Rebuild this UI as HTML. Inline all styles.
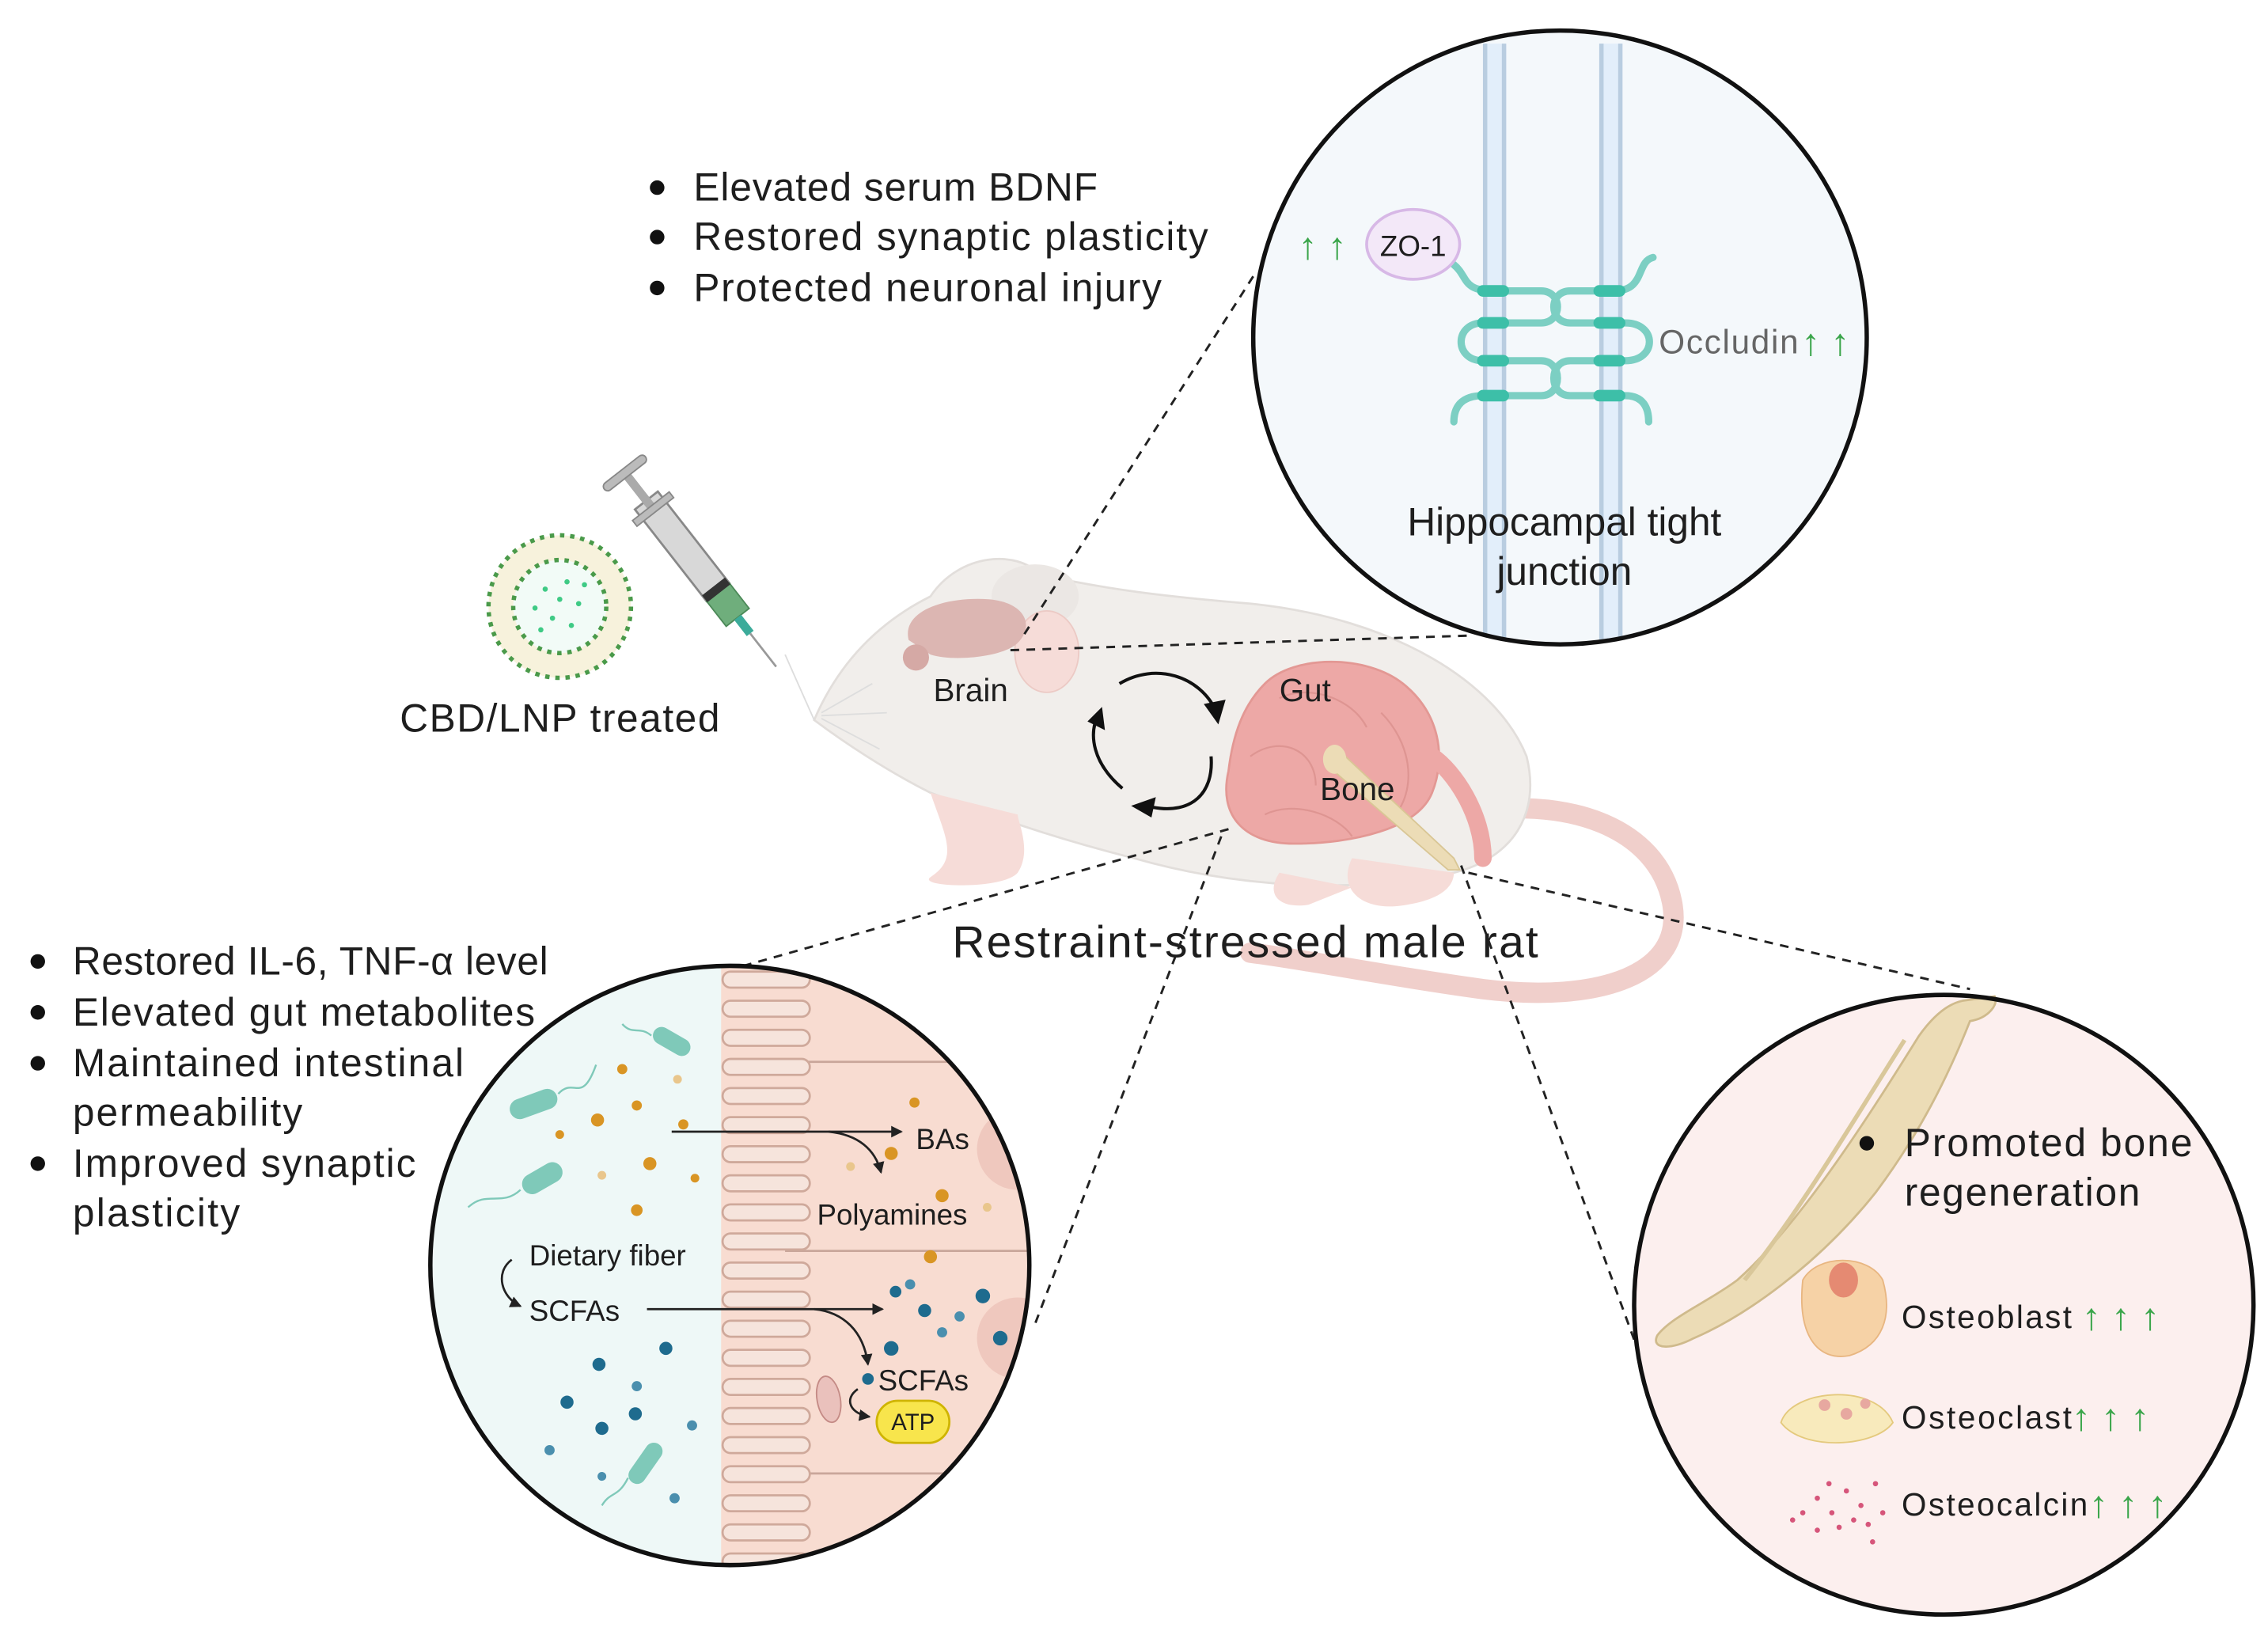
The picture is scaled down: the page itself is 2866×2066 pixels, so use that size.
<!DOCTYPE html>
<html><head><meta charset="utf-8"><style>
html,body{margin:0;padding:0;background:#fff;}
svg{display:block;}
text{font-family:"Liberation Sans",sans-serif;fill:#1e1e1e;}
</style></head><body>
<svg width="2866" height="2066" viewBox="0 0 2866 2066" xmlns="http://www.w3.org/2000/svg">
<defs>
<marker id="ah" markerWidth="8" markerHeight="8" refX="7" refY="4" orient="auto" markerUnits="userSpaceOnUse"><path d="M0,0 L8,4 L0,8 z" fill="#222"/></marker>
<clipPath id="cg"><circle cx="502" cy="870" r="206"/></clipPath>
<clipPath id="ct"><circle cx="1073" cy="232" r="211"/></clipPath>
</defs>
<g transform="scale(1.8372,1.838)">
<!-- top bullets -->
<g font-size="27">
<circle cx="452" cy="129" r="5" fill="#111"/><text x="477" y="138" textLength="278">Elevated serum BDNF</text>
<circle cx="452" cy="163" r="5" fill="#111"/><text x="477" y="172" textLength="354">Restored synaptic plasticity</text>
<circle cx="452" cy="198" r="5" fill="#111"/><text x="477" y="207" textLength="322">Protected neuronal injury</text>
</g>
<!-- left bullets -->
<g font-size="27">
<circle cx="26" cy="661" r="5" fill="#111"/><text x="50" y="670" textLength="327">Restored IL-6, TNF-α level</text>
<circle cx="26" cy="696" r="5" fill="#111"/><text x="50" y="705" textLength="318">Elevated gut metabolites</text>
<circle cx="26" cy="731" r="5" fill="#111"/><text x="50" y="740" textLength="269">Maintained intestinal</text>
<text x="50" y="774" textLength="158">permeability</text>
<circle cx="26" cy="800" r="5" fill="#111"/><text x="50" y="809" textLength="236">Improved synaptic</text>
<text x="50" y="843" textLength="115">plasticity</text>
</g>

<!-- tail -->
<path d="M1000,560 C1080,545 1140,570 1150,620 C1160,670 1100,690 1020,680 C960,672 900,660 860,655" fill="none" stroke="#f0cfcb" stroke-width="14" stroke-linecap="round"/>
<!-- rat body -->
<path d="M560,495 C575,460 600,430 640,410 C660,380 700,378 715,395 C760,405 800,410 860,415 C960,425 1030,470 1050,520 C1060,560 1040,590 1000,600 C930,615 850,610 780,590 C720,575 680,560 640,545 C610,530 580,510 560,495 z" fill="#f1eeeb" stroke="#e2dedb" stroke-width="1.5"/>
<ellipse cx="712" cy="410" rx="30" ry="22" fill="#ebe7e4"/>
<ellipse cx="720" cy="448" rx="22" ry="28" fill="#f6dcd8" stroke="#eccac5"/>
<!-- legs -->
<path d="M640,545 C650,575 660,590 640,603 C630,610 690,612 700,600 C710,585 700,565 700,560 z" fill="#f6dcd8"/>
<path d="M880,600 C870,615 880,625 900,622 L930,610 z" fill="#f6dcd8"/>
<path d="M930,590 C920,610 935,625 960,623 C990,620 1000,610 1000,600 z" fill="#f6dcd8"/>
<!-- whiskers -->
<g stroke="#ddd" stroke-width="1" fill="none"><path d="M565,490 L600,470"/><path d="M565,492 L610,490"/><path d="M565,494 L605,515"/><path d="M560,495 L540,450"/></g>
<!-- brain -->
<path d="M625,440 C620,420 650,410 680,412 C705,414 712,430 700,442 C690,452 655,455 640,450 Z" fill="#dcb6b2"/>
<ellipse cx="630" cy="452" rx="9" ry="9" fill="#d5a9a5"/>
<text x="642" y="482" font-size="22">Brain</text>
<!-- gut -->
<path d="M870,470 C890,450 940,450 965,470 C990,490 995,520 985,545 C975,570 930,580 890,580 C855,580 838,560 845,530 C848,505 855,485 870,470 z" fill="#eda8a6" stroke="#e39894" stroke-width="1.5"/>
<g fill="none" stroke="#de9592" stroke-width="1.2"><path d="M880,480 C900,470 930,480 940,500"/><path d="M860,520 C880,505 905,515 905,540"/><path d="M950,490 C970,510 975,540 960,560"/><path d="M870,560 C890,550 920,560 930,575"/></g>
<path d="M985,520 C1000,530 1020,560 1020,590" fill="none" stroke="#eda8a6" stroke-width="12" stroke-linecap="round"/>
<!-- bone -->
<path d="M912,520 L920,515 L1000,590 L1004,598 L996,598 L915,528 z" fill="#ecdcb6" stroke="#d9c695" stroke-width="1"/>
<ellipse cx="918" cy="522" rx="8" ry="10" fill="#ecdcb6"/>
<text x="880" y="482" font-size="22">Gut</text>
<text x="908" y="550" font-size="22">Bone</text>
<!-- cycle arrows -->
<g fill="none" stroke="#111" stroke-width="2.2">
<path d="M770,470 C795,455 825,465 836,488"/>
<path d="M833,520 C835,545 820,560 793,555"/>
<path d="M772,542 C752,525 748,505 756,490"/>
</g>
<path d="M828,484 L843,481 L838,498 z" fill="#111"/>
<path d="M795,548 L778,554 L792,562 z" fill="#111"/>
<path d="M748,496 L758,486 L760,502 z" fill="#111"/>

<!-- syringe -->
<g transform="rotate(-38 500 415)">
<rect x="490" y="325" width="20" height="80" fill="#d8d8d8" stroke="#888" stroke-width="1.5"/>
<rect x="497" y="300" width="6" height="30" fill="#aaa"/>
<rect x="482" y="298" width="36" height="6" rx="3" fill="#bbb" stroke="#888"/>
<rect x="484" y="330" width="32" height="5" fill="#bbb" stroke="#888"/>
<rect x="490" y="405" width="20" height="22" fill="#6fae7c" stroke="#4d8a59"/>
<rect x="490" y="400" width="20" height="6" fill="#333"/>
<rect x="497" y="427" width="6" height="14" fill="#3cab9a"/>
<line x1="500" y1="441" x2="500" y2="470" stroke="#999" stroke-width="1.5"/>
</g>
<!-- LNP -->
<circle cx="385" cy="417" r="49" fill="#f7f2dc" stroke="#4a9a4a" stroke-width="3" stroke-dasharray="3 4"/>
<circle cx="385" cy="417" r="32" fill="#f2fbf7" stroke="#4a9a4a" stroke-width="3" stroke-dasharray="3 4"/>
<g fill="#3fca85"><circle cx="375" cy="405" r="1.8"/><circle cx="390" cy="400" r="1.8"/><circle cx="398" cy="415" r="1.8"/><circle cx="380" cy="425" r="1.8"/><circle cx="368" cy="418" r="1.8"/><circle cx="393" cy="430" r="1.8"/><circle cx="385" cy="412" r="1.8"/><circle cx="372" cy="433" r="1.8"/><circle cx="402" cy="402" r="1.8"/></g>
<text x="275" y="503" font-size="27" textLength="220">CBD/LNP treated</text>
<text x="655" y="658" font-size="31" textLength="403">Restraint-stressed male rat</text>

<!-- dashed connectors -->
<g stroke="#222" stroke-width="1.6" stroke-dasharray="6 5" fill="none">
<line x1="862" y1="190" x2="702" y2="440"/>
<line x1="695" y1="447" x2="1010" y2="437"/>
<line x1="845" y1="570" x2="508" y2="665"/>
<line x1="840" y1="575" x2="712" y2="910"/>
<line x1="1005" y1="595" x2="1128" y2="932"/>
<line x1="1010" y1="600" x2="1355" y2="680"/>
</g>

<!-- top circle -->
<circle cx="1073" cy="232" r="211" fill="#f4f8fb"/>
<g clip-path="url(#ct)">
<rect x="1020" y="30" width="16" height="410" fill="#e2eefa"/>
<rect x="1020" y="30" width="3" height="410" fill="#b9cde0"/><rect x="1033" y="30" width="3" height="410" fill="#b9cde0"/>
<rect x="1100" y="30" width="16" height="410" fill="#e2eefa"/>
<rect x="1100" y="30" width="3" height="410" fill="#b9cde0"/><rect x="1113" y="30" width="3" height="410" fill="#b9cde0"/>
</g>
<g fill="none" stroke="#7ccfc3" stroke-width="5" stroke-linecap="round">
<path d="M1000,182 C1010,190 1005,200 1028,200 L1060,200 C1075,200 1075,222 1060,222 L1020,222 C1000,222 1000,248 1020,248 L1060,248 C1075,248 1075,272 1060,272 L1020,272 C1005,272 1000,280 1000,290"/>
<path d="M1137,177 C1125,180 1132,200 1110,200 L1080,200 C1065,200 1065,222 1080,222 L1118,222 C1140,222 1140,248 1118,248 L1080,248 C1065,248 1065,272 1080,272 L1118,272 C1130,272 1134,280 1134,290"/>
</g>
<g fill="#3dbfa8">
<rect x="1016" y="196" width="22" height="8" rx="4"/><rect x="1016" y="218" width="22" height="8" rx="4"/><rect x="1016" y="244" width="22" height="8" rx="4"/><rect x="1016" y="268" width="22" height="8" rx="4"/>
<rect x="1096" y="196" width="22" height="8" rx="4"/><rect x="1096" y="218" width="22" height="8" rx="4"/><rect x="1096" y="244" width="22" height="8" rx="4"/><rect x="1096" y="268" width="22" height="8" rx="4"/>
</g>
<ellipse cx="972" cy="168" rx="32" ry="24" fill="#f3e8f8" stroke="#d7b8e6" stroke-width="2"/>
<text x="972" y="176" font-size="20" text-anchor="middle">ZO-1</text>
<text x="893" y="178" font-size="26" style="fill:#3aa54a">↑ ↑</text>
<text x="1141" y="243" font-size="23" style="fill:#666" textLength="96">Occludin</text>
<text x="1239" y="244" font-size="26" style="fill:#3aa54a">↑ ↑</text>
<text x="1076" y="368" font-size="27" text-anchor="middle">Hippocampal tight</text>
<text x="1076" y="402" font-size="27" text-anchor="middle">junction</text>
<circle cx="1073" cy="232" r="211" fill="none" stroke="#111" stroke-width="3"/>

<!-- gut circle -->
<g clip-path="url(#cg)">
<rect x="290" y="660" width="210" height="420" fill="#eef8f7"/>
<rect x="496" y="660" width="220" height="420" fill="#f8dcd1"/>
<g stroke="#c9a69a" stroke-width="1.5"><line x1="540" y1="730" x2="716" y2="730"/><line x1="540" y1="860" x2="716" y2="860"/><line x1="540" y1="1013" x2="716" y2="1013"/></g>
<circle cx="700" cy="790" r="28" fill="#efc8be"/><circle cx="700" cy="920" r="28" fill="#efc8be"/>
<g fill="#f6e4dc" stroke="#cfa99b" stroke-width="1.5">
<rect x="497" y="668" width="60" height="11" rx="5.5"/><rect x="497" y="688" width="60" height="11" rx="5.5"/><rect x="497" y="708" width="60" height="11" rx="5.5"/><rect x="497" y="728" width="60" height="11" rx="5.5"/><rect x="497" y="748" width="60" height="11" rx="5.5"/><rect x="497" y="768" width="60" height="11" rx="5.5"/><rect x="497" y="788" width="60" height="11" rx="5.5"/><rect x="497" y="808" width="60" height="11" rx="5.5"/><rect x="497" y="828" width="60" height="11" rx="5.5"/><rect x="497" y="848" width="60" height="11" rx="5.5"/><rect x="497" y="868" width="60" height="11" rx="5.5"/><rect x="497" y="888" width="60" height="11" rx="5.5"/><rect x="497" y="908" width="60" height="11" rx="5.5"/><rect x="497" y="928" width="60" height="11" rx="5.5"/><rect x="497" y="948" width="60" height="11" rx="5.5"/><rect x="497" y="968" width="60" height="11" rx="5.5"/><rect x="497" y="988" width="60" height="11" rx="5.5"/><rect x="497" y="1008" width="60" height="11" rx="5.5"/><rect x="497" y="1028" width="60" height="11" rx="5.5"/><rect x="497" y="1048" width="60" height="11" rx="5.5"/><rect x="497" y="1068" width="60" height="11" rx="5.5"/>
</g>
</g>
<!-- bacteria -->
<g fill="#7fc9b9"><rect x="350" y="752" width="34" height="14" rx="7" transform="rotate(-20 367 759)"/><rect x="358" y="803" width="30" height="14" rx="7" transform="rotate(-30 373 810)"/><rect x="448" y="710" width="28" height="12" rx="6" transform="rotate(30 462 716)"/><rect x="428" y="1000" width="32" height="12" rx="6" transform="rotate(-55 444 1006)"/></g>
<g fill="none" stroke="#7fc9b9" stroke-width="1.3"><path d="M384,752 C395,740 400,760 410,732"/><path d="M358,818 C345,830 335,818 322,830"/><path d="M448,712 C440,705 435,712 428,704"/><path d="M432,1016 C425,1030 420,1025 414,1035"/></g>
<g fill="#d99524"><circle cx="428" cy="735" r="3.5"/><circle cx="438" cy="760" r="3.5"/><circle cx="411" cy="770" r="4.5"/><circle cx="447" cy="800" r="4.5"/><circle cx="438" cy="832" r="4"/><circle cx="470" cy="773" r="3.5"/><circle cx="629" cy="758" r="3.5"/><circle cx="613" cy="793" r="4.5"/><circle cx="648" cy="822" r="4.5"/><circle cx="640" cy="864" r="4.5"/><circle cx="385" cy="780" r="3"/><circle cx="478" cy="810" r="3"/></g>
<g fill="#e9c68c"><circle cx="466" cy="742" r="3"/><circle cx="414" cy="808" r="3"/><circle cx="585" cy="802" r="3"/><circle cx="679" cy="830" r="3"/></g>
<g fill="#1e6b8e"><circle cx="412" cy="938" r="4.5"/><circle cx="458" cy="927" r="4.5"/><circle cx="390" cy="964" r="4.5"/><circle cx="437" cy="972" r="4.5"/><circle cx="414" cy="982" r="4.5"/><circle cx="616" cy="888" r="4"/><circle cx="676" cy="891" r="5"/><circle cx="636" cy="901" r="4.5"/><circle cx="613" cy="927" r="5"/><circle cx="688" cy="920" r="5"/><circle cx="597" cy="948" r="4"/></g>
<g fill="#4a8fae"><circle cx="438" cy="953" r="3.5"/><circle cx="378" cy="997" r="3.5"/><circle cx="476" cy="980" r="3.5"/><circle cx="464" cy="1030" r="3.5"/><circle cx="626" cy="883" r="3.5"/><circle cx="660" cy="905" r="3.5"/><circle cx="648" cy="916" r="3.5"/><circle cx="414" cy="1015" r="3"/></g>
<ellipse cx="570" cy="962" rx="8" ry="16" fill="#eac1bc" stroke="#c48a85" transform="rotate(-10 570 962)"/>
<g fill="none" stroke="#222" stroke-width="1.5">
<line x1="462" y1="778" x2="620" y2="778" marker-end="url(#ah)"/>
<path d="M570,778 C590,780 602,790 606,806" marker-end="url(#ah)"/>
<line x1="445" y1="900" x2="607" y2="900" marker-end="url(#ah)"/>
<path d="M560,900 C580,902 594,915 597,938" marker-end="url(#ah)"/>
<path d="M352,866 C340,875 345,892 358,898" marker-end="url(#ah)"/>
<path d="M590,955 C580,962 585,972 598,974" marker-end="url(#ah)"/>
</g>
<g font-size="20">
<text x="630" y="790">BAs</text>
<text x="562" y="842">Polyamines</text>
<text x="364" y="870">Dietary fiber</text>
<text x="364" y="908">SCFAs</text>
<text x="604" y="956">SCFAs</text>
</g>
<rect x="603" y="963" width="50" height="29" rx="14.5" fill="#f8e54c" stroke="#cfb400" stroke-width="1.5"/>
<text x="628" y="983" font-size="16" text-anchor="middle">ATP</text>
<circle cx="502" cy="870" r="206" fill="none" stroke="#111" stroke-width="3"/>

<!-- bone circle -->
<circle cx="1337" cy="897" r="213" fill="#fcefee"/>
<path d="M1140,918 C1150,905 1175,895 1195,880 C1240,840 1290,760 1320,712 C1330,698 1340,690 1350,688 L1372,685 C1375,690 1368,700 1355,702 C1340,740 1320,780 1290,820 C1250,870 1200,905 1165,920 C1150,928 1135,928 1140,918 z" fill="#ecdcb6" stroke="#cfba8c" stroke-width="1.5"/>
<path d="M1200,880 C1240,830 1275,770 1310,715" fill="none" stroke="#d9c79a" stroke-width="3"/>
<circle cx="1284" cy="786" r="5" fill="#111"/>
<text x="1310" y="795" font-size="27" textLength="198">Promoted bone</text>
<text x="1310" y="829" font-size="27" textLength="162">regeneration</text>
<path d="M1240,880 C1250,862 1285,862 1295,880 C1302,905 1295,925 1272,932 C1250,936 1236,918 1240,880 z" fill="#f6d2a6" stroke="#e8b681"/>
<ellipse cx="1268" cy="880" rx="10" ry="12" fill="#e58a72"/>
<path d="M1225,978 C1232,955 1290,950 1302,978 C1290,995 1240,998 1225,978 z" fill="#f8eabc" stroke="#e4c97d"/>
<g fill="#e7a8a0"><circle cx="1255" cy="966" r="4"/><circle cx="1270" cy="972" r="4"/><circle cx="1283" cy="965" r="3.5"/></g>
<g fill="#d6557a"><circle cx="1240" cy="1040" r="1.8"/><circle cx="1250" cy="1030" r="1.8"/><circle cx="1260" cy="1040" r="1.8"/><circle cx="1270" cy="1025" r="1.8"/><circle cx="1265" cy="1050" r="1.8"/><circle cx="1280" cy="1035" r="1.8"/><circle cx="1288" cy="1060" r="1.8"/><circle cx="1290" cy="1020" r="1.8"/><circle cx="1250" cy="1052" r="1.8"/><circle cx="1275" cy="1045" r="1.8"/><circle cx="1233" cy="1045" r="1.8"/><circle cx="1258" cy="1020" r="1.8"/><circle cx="1285" cy="1048" r="1.8"/><circle cx="1295" cy="1040" r="1.8"/></g>
<g font-size="22">
<text x="1308" y="913" textLength="117">Osteoblast</text><text x="1432" y="914" font-size="26" style="fill:#3aa54a">↑ ↑ ↑</text>
<text x="1308" y="982" textLength="117">Osteoclast</text><text x="1425" y="983" font-size="26" style="fill:#3aa54a">↑ ↑ ↑</text>
<text x="1308" y="1042" textLength="128">Osteocalcin</text><text x="1437" y="1043" font-size="26" style="fill:#3aa54a">↑ ↑ ↑</text>
</g>
<circle cx="1337" cy="897" r="213" fill="none" stroke="#111" stroke-width="3"/>
</g>
</svg>
</body></html>
